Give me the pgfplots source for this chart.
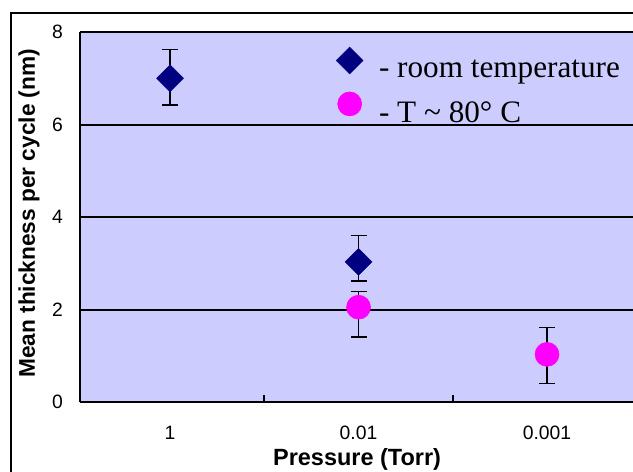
\documentclass[border=0pt]{standalone}
\usepackage{fontspec}
\setmainfont{Liberation Sans}
\newfontfamily\timesfont{Liberation Serif}
\usepackage{pgfplots}
\pgfplotsset{compat=1.18}
\definecolor{bgcol}{HTML}{CCCCFF}
\definecolor{navy}{HTML}{000080}
\definecolor{mag}{HTML}{FF00FF}
\begin{document}
\begin{tikzpicture}
\useasboundingbox (0,0) rectangle (474.75pt,354pt);
\clip (0,0) rectangle (474.75pt,354pt);
\draw[line width=1.5pt] (8.25pt,-20pt) rectangle (500pt,344.25pt);
\begin{axis}[
  at={(60pt,52.5pt)}, anchor=south west, scale only axis,
  width=414.75pt, height=277.5pt,
  xmin=-0.4775, xmax=2.456, ymin=0, ymax=8,
  axis x line*=bottom, axis y line*=left,
  axis line style={-, line width=1.7pt},
  axis background/.style={fill=bgcol},
  xtick={0,1,2}, xticklabels={1,0.01,0.001},
  minor xtick={0.5,1.5},
  ytick={0,2,4,6,8},
  major tick length=0pt, minor tick length=5.25pt, tick align=inside,
  minor tick style={line width=1.2pt, black},
  ymajorgrids, grid style={line width=1.5pt, black},
  /pgf/number format/assume math mode=true,
  tick label style={font=\fontsize{14.5}{17}\selectfont},
  xticklabel style={anchor=center, yshift=-23.25pt},
  yticklabel style={anchor=center, xshift=-16.9pt},
  xlabel={Pressure (Torr)},
  ylabel={Mean thickness per cycle (nm)},
  xlabel style={font=\bfseries\fontsize{17.6}{20}\selectfont, at={(axis description cs:0.501,-0.154)}, anchor=center},
  ylabel style={font=\bfseries\fontsize{17}{20}\selectfont, at={(axis description cs:-0.0922,0.51)}, anchor=center, rotate=0},
  error bars/error bar style={line width=1.2pt, black},
  error bars/error mark options={rotate=90, line width=1.2pt, black, mark size=6pt},
  legend style={at={(axis description cs:0.463,0.96)}, anchor=north west, draw=none, fill=none,
    font=\timesfont\fontsize{23.4}{28}\selectfont, inner sep=0pt, row sep=7.25pt,
    /tikz/every odd column/.append style={column sep=10pt}},
  legend cell align=left,
  legend image code/.code={\draw[#1] plot coordinates {(0pt,7pt)};},
]
\addplot[only marks, mark=square*, mark size=7.1pt, mark options={rotate=45, fill=navy, draw=navy},
  error bars/.cd, y dir=both, y explicit]
  coordinates {
    (0,7.00) += (0,0.62) -= (0,0.58)
    (1,3.03) += (0,0.57) -= (0,0.42)
  };
\addlegendentry{- room temperature}
\addplot[only marks, mark=*, mark size=9pt, mark options={fill=mag, draw=mag},
  error bars/.cd, y dir=both, y explicit]
  coordinates {
    (1,2.05) += (0,0.34) -= (0,0.65)
    (2,1.03) += (0,0.58) -= (0,0.63)
  };
\addlegendentry{- T \textasciitilde{} 80° C}
\end{axis}
\end{tikzpicture}
\end{document}
